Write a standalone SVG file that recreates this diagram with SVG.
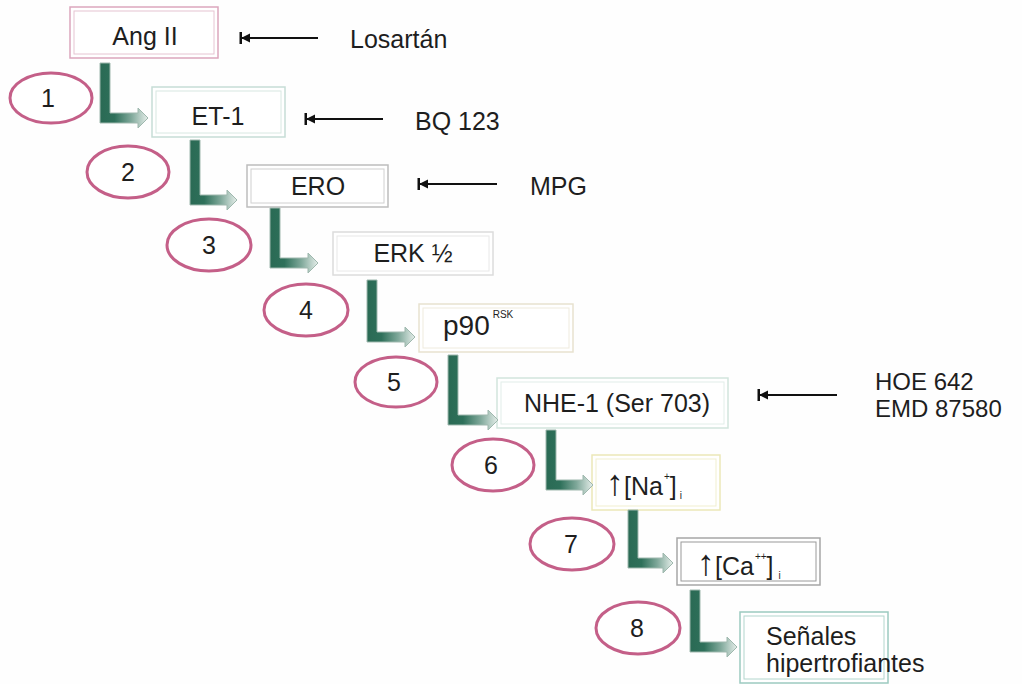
<svg xmlns="http://www.w3.org/2000/svg" width="1022" height="684" viewBox="0 0 1022 684">
  <defs>
    <linearGradient id="flow" x1="0" y1="0" x2="1" y2="0">
      <stop offset="0" stop-color="#2a6a54"/>
      <stop offset="0.3" stop-color="#2e705a"/>
      <stop offset="0.65" stop-color="#7fa89a"/>
      <stop offset="1" stop-color="#e6eeea"/>
    </linearGradient>
    <marker id="block" markerUnits="userSpaceOnUse" markerWidth="16" markerHeight="16" viewBox="0 0 16 16" refX="2" refY="8" orient="auto">
      <rect x="0.5" y="2" width="2.5" height="12" fill="#111"/>
      <path d="M2,8 L11,3.5 L11,12.5 Z" fill="#111"/>
    </marker>
  </defs>
  <style>
    text { font-family: "Liberation Sans", Arial, sans-serif; fill: #1e1e1e; }
    .lbl { font-size: 25px; }
    .num { font-size: 25px; text-anchor: middle; }
    .mid { text-anchor: middle; }
    .sup { font-size: 10px; }
    .up { font-size: 36px; }
    .step { fill: #fff; stroke: #c45f88; stroke-width: 3; }
    .flow { fill: url(#flow); stroke: #9fb8ae; stroke-width: 1; }
    .inh { stroke: #111; stroke-width: 2; fill: none; marker-start: url(#block); }
    .box { fill: #fff; stroke-width: 1.5; }
  </style>
  <rect width="1022" height="684" fill="#fefefe"/>

  <!-- nodes -->
  <g id="ang2">
    <rect class="box" x="70" y="7" width="148" height="51" stroke="#dba6bd"/>
    <rect x="74" y="11" width="140" height="43" fill="none" stroke="#e6c4d2" stroke-width="1"/>
    <text class="lbl mid" x="145" y="45">Ang II</text>
  </g>
  <g id="et1">
    <rect class="box" x="152" y="87" width="133" height="50" stroke="#c6ddd6"/>
    <rect x="156" y="91" width="125" height="42" fill="none" stroke="#d8e8e2" stroke-width="1"/>
    <text class="lbl mid" x="218" y="125">ET-1</text>
  </g>
  <g id="ero">
    <rect class="box" x="247" y="165" width="141" height="42" stroke="#bdbdbd"/>
    <rect x="251" y="169" width="133" height="34" fill="none" stroke="#d0d0d0" stroke-width="1"/>
    <text class="lbl mid" x="318" y="195">ERO</text>
  </g>
  <g id="erk">
    <rect class="box" x="333" y="232" width="160" height="43" stroke="#dcdcdc"/>
    <rect x="337" y="236" width="152" height="35" fill="none" stroke="#e8e8e8" stroke-width="1"/>
    <text class="lbl mid" x="413" y="262">ERK ½</text>
  </g>
  <g id="p90">
    <rect class="box" x="419" y="304" width="154" height="48" stroke="#e8e2cf"/>
    <rect x="423" y="308" width="146" height="40" fill="none" stroke="#efebde" stroke-width="1"/>
    <text x="443" y="335" style="font-size:28px">p90<tspan class="sup" dx="3" dy="-17">RSK</tspan></text>
  </g>
  <g id="nhe1">
    <rect class="box" x="497" y="378" width="231" height="50" stroke="#d2e5dd"/>
    <rect x="501" y="382" width="223" height="42" fill="none" stroke="#e2eee9" stroke-width="1"/>
    <text class="lbl mid" x="617" y="412">NHE-1 (Ser 703)</text>
  </g>
  <g id="na">
    <rect class="box" x="592" y="455" width="128" height="55" stroke="#ebe8b8"/>
    <rect x="596" y="459" width="120" height="47" fill="none" stroke="#f1efcf" stroke-width="1"/>
    <text class="lbl" x="606" y="495"><tspan class="up">↑</tspan>[Na<tspan class="sup" dx="1" dy="-15">+</tspan><tspan dy="15">]</tspan><tspan class="sup" dx="3" dy="4">i</tspan></text>
  </g>
  <g id="ca">
    <rect class="box" x="677" y="538" width="143" height="47" stroke="#a6a6a6"/>
    <rect x="681" y="542" width="135" height="39" fill="none" stroke="#9a9a9a" stroke-width="1"/>
    <text class="lbl" x="697" y="575"><tspan class="up">↑</tspan>[Ca<tspan class="sup" dx="1" dy="-15">++</tspan><tspan dy="15">]</tspan><tspan class="sup" dx="5" dy="4">i</tspan></text>
  </g>
  <g id="senales">
    <rect class="box" x="740" y="612" width="148" height="71" stroke="#9ccac0"/>
    <rect x="744" y="616" width="140" height="63" fill="none" stroke="#b2d6cd" stroke-width="1"/>
    <text class="lbl" x="766" y="645">Señales</text>
    <text class="lbl" x="766" y="672">hipertrofiantes</text>
  </g>

  <!-- inhibitors -->
  <g id="inhibitors">
    <text class="lbl" x="350" y="48">Losartán</text>
    <text class="lbl" x="415" y="130">BQ 123</text>
    <text class="lbl" x="530" y="195">MPG</text>
    <text x="875" y="390" style="font-size:24px">HOE 642</text>
    <text x="875" y="417" style="font-size:24px">EMD 87580</text>
  </g>

  <!-- step numbers -->
  <g id="steps">
    <ellipse class="step" cx="51" cy="98" rx="41" ry="25"/>
    <text class="num" x="48" y="107">1</text>
    <ellipse class="step" cx="128" cy="172" rx="41" ry="26"/>
    <text class="num" x="128" y="181">2</text>
    <ellipse class="step" cx="209" cy="245" rx="42" ry="26"/>
    <text class="num" x="209" y="254">3</text>
    <ellipse class="step" cx="306" cy="310" rx="42" ry="26"/>
    <text class="num" x="306" y="319">4</text>
    <ellipse class="step" cx="396" cy="382" rx="41" ry="25"/>
    <text class="num" x="394" y="391">5</text>
    <ellipse class="step" cx="493" cy="465" rx="41" ry="26"/>
    <text class="num" x="491" y="474">6</text>
    <ellipse class="step" cx="572" cy="544" rx="42" ry="26"/>
    <text class="num" x="571" y="553">7</text>
    <ellipse class="step" cx="638" cy="628" rx="42" ry="26"/>
    <text class="num" x="637" y="637">8</text>
  </g>

  <!-- connectors -->
  <g id="connectors">
    <path class="flow" d="M100,63 H110 V113 H138 V108 L148,118 L138,128 V123 H100 Z"/>
    <path class="flow" d="M190,140 H200 V195 H227 V190 L237,200 L227,210 V205 H190 Z"/>
    <path class="flow" d="M270,208 H280 V258 H308 V253 L318,263 L308,273 V268 H270 Z"/>
    <path class="flow" d="M367,280 H377 V332 H405 V327 L415,337 L405,347 V342 H367 Z"/>
    <path class="flow" d="M448,355 H458 V415 H488 V410 L498,420 L488,430 V425 H448 Z"/>
    <path class="flow" d="M546,430 H556 V480 H583 V475 L593,485 L583,495 V490 H546 Z"/>
    <path class="flow" d="M628,510 H638 V558 H663 V553 L673,563 L663,573 V568 H628 Z"/>
    <path class="flow" d="M690,590 H700 V642 H727 V637 L737,647 L727,657 V652 H690 Z"/>
    <line class="inh" x1="241" y1="38" x2="318" y2="38"/>
    <line class="inh" x1="306" y1="119" x2="383" y2="119"/>
    <line class="inh" x1="419" y1="184" x2="497" y2="184"/>
    <line class="inh" x1="759" y1="395" x2="837" y2="395"/>
  </g>
</svg>
